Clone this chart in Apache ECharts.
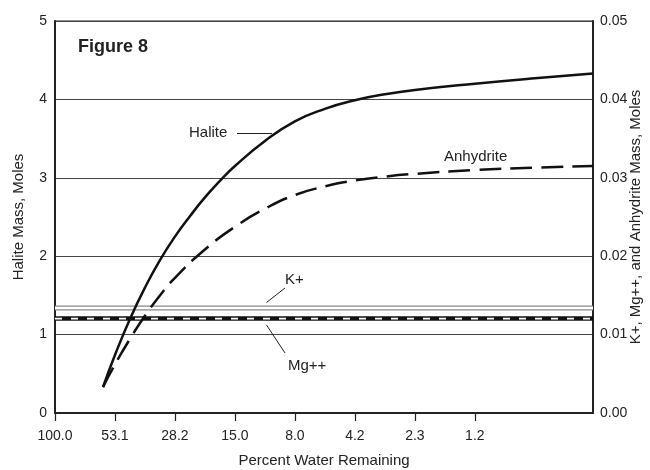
<!DOCTYPE html>
<html>
<head>
<meta charset="utf-8">
<script src="https://cdn.jsdelivr.net/npm/echarts@6/dist/echarts.min.js"></script>
<style>html,body{margin:0;padding:0;background:#fff}#c{width:650px;height:470px}</style>
</head>
<body>
<div id="c"></div>
<script>
// x positions are tick-index positions on the (log-spaced) water-remaining axis
const xTickLabels = ["100.0", "53.1", "28.2", "15.0", "8.0", "4.2", "2.3", "1.2"];
const xMax = 8.97;
const haliteX = [0.8, 1.0, 1.25, 1.5, 1.75, 2.0, 2.25, 2.5, 2.75, 3.0, 3.5, 4.0, 4.5, 5.0, 5.5, 6.0, 7.0, 8.0, 8.97];
const haliteY = [0.33, 0.74, 1.20, 1.60, 1.95, 2.25, 2.51, 2.75, 2.96, 3.15, 3.47, 3.72, 3.88, 3.99, 4.065, 4.12, 4.20, 4.27, 4.33];
const anhydriteX = [0.8, 1.0, 1.25, 1.5, 1.75, 2.0, 2.5, 3.0, 3.5, 4.0, 4.5, 5.0, 5.5, 6.0, 7.0, 8.0, 8.97];
const anhydriteY = [0.0033, 0.0062, 0.00945, 0.0124, 0.0150, 0.01725, 0.02085, 0.02375, 0.02605, 0.0278, 0.0289, 0.02965, 0.03015, 0.0305, 0.0310, 0.0313, 0.0315];
const kPlus = 0.0134;
const mgPlus = 0.01205;

const FONT = "'Liberation Sans', Arial, Helvetica, sans-serif";
const TXT = '#222';
const chart = echarts.init(document.getElementById('c'), null, {renderer: 'canvas'});
const pair = (xs, ys) => xs.map((x, i) => [x, ys[i]]);
const flat = v => [[0, v], [xMax, v]];

const option = {
  animation: false,
  backgroundColor: '#fff',
  grid: {left: 55, right: 57, top: 21, bottom: 57, outerBoundsMode: 'none', containLabel: false,
    show: true, borderColor: '#222', borderWidth: 1.2},
  xAxis: {
    type: 'value', min: 0, max: xMax, interval: 1,
    name: 'Percent Water Remaining', nameLocation: 'middle', nameGap: 40, nameMoveOverlap: false,
    nameTextStyle: {fontFamily: FONT, fontSize: 15, color: TXT},
    axisLine: {lineStyle: {color: '#222', width: 2}},
    axisTick: {show: true, length: 8, customValues: [0,1,2,3,4,5,6,7], lineStyle: {color: '#222', width: 1.2}},
    axisLabel: {customValues: [0,1,2,3,4,5,6,7], margin: 16, fontFamily: FONT, fontSize: 14, color: TXT,
      formatter: v => xTickLabels[Math.round(v)] || ''},
    splitLine: {show: false}
  },
  yAxis: [{
    type: 'value', min: 0, max: 5, interval: 1, position: 'left',
    name: 'Halite Mass, Moles', nameLocation: 'middle', nameGap: 29, nameMoveOverlap: false,
    nameTextStyle: {fontFamily: FONT, fontSize: 15, color: TXT},
    axisLine: {show: true, lineStyle: {color: '#222', width: 2}},
    axisTick: {show: false},
    axisLabel: {margin: 8, fontFamily: FONT, fontSize: 14, color: TXT},
    splitLine: {show: true, lineStyle: {color: '#444', width: 1}}
  }, {
    type: 'value', min: 0, max: 0.05, interval: 0.01, position: 'right',
    name: 'K+, Mg++, and Anhydrite Mass, Moles', nameLocation: 'middle', nameGap: 35, nameMoveOverlap: false,
    nameTextStyle: {fontFamily: FONT, fontSize: 15, color: TXT},
    axisLine: {show: true, lineStyle: {color: '#222', width: 2}},
    axisTick: {show: false},
    axisLabel: {margin: 7, fontFamily: FONT, fontSize: 14, color: TXT, formatter: v => v.toFixed(2)},
    splitLine: {show: false}
  }],
  series: [
    {name: 'K+', type: 'line', yAxisIndex: 1, data: flat(kPlus), showSymbol: false, silent: true,
      lineStyle: {color: '#888', width: 5}},
    {name: 'K+ inner', type: 'line', yAxisIndex: 1, data: flat(kPlus), showSymbol: false, silent: true,
      lineStyle: {color: '#fff', width: 2.4}},
    {name: 'Mg++', type: 'line', yAxisIndex: 1, data: flat(mgPlus), showSymbol: false, silent: true,
      lineStyle: {color: '#111', width: 4.5}},
    {name: 'Mg++ inner', type: 'line', yAxisIndex: 1, data: flat(mgPlus), showSymbol: false, silent: true,
      lineStyle: {color: '#fff', width: 1.8, type: [7, 9], dashOffset: 0, cap: 'butt'}},
    {name: 'Halite', type: 'line', yAxisIndex: 0, data: pair(haliteX, haliteY), showSymbol: false,
      smooth: 0.5, lineStyle: {color: '#111', width: 2.5}},
    {name: 'Anhydrite', type: 'line', yAxisIndex: 1, data: pair(anhydriteX, anhydriteY), showSymbol: false,
      smooth: 0.5, lineStyle: {color: '#111', width: 2.5, type: [22, 9], cap: 'butt'}}
  ]
};
chart.setOption(option);

function px(x, y, axis) {
  return chart.convertToPixel({xAxisIndex: 0, yAxisIndex: axis}, [x, y]);
}
const tStyle = (t, fs, bold) => ({text: t, fill: TXT, font: (bold ? 'bold ' : '') + fs + 'px ' + FONT});
const topLeft = px(0, 5, 0);
const g = [];
g.push({type: 'text', x: topLeft[0] + 23, y: topLeft[1] + 17, style: tStyle('Figure 8', 18, true)});
// Halite label + leader
g.push({type: 'text', x: 189, y: 125, style: tStyle('Halite', 15)});
g.push({type: 'line', shape: {x1: 237, y1: 133.5, x2: 272, y2: 133.5}, style: {stroke: '#222', lineWidth: 1}});
// Anhydrite label
g.push({type: 'text', x: 444, y: 149, style: tStyle('Anhydrite', 15)});
// K+ label + leader
g.push({type: 'text', x: 285, y: 272, style: tStyle('K+', 15)});
g.push({type: 'line', shape: {x1: 285, y1: 288, x2: 266.5, y2: 302.5}, style: {stroke: '#222', lineWidth: 1}});
// Mg++ label + leader
g.push({type: 'text', x: 288, y: 358, style: tStyle('Mg++', 15)});
g.push({type: 'line', shape: {x1: 266.5, y1: 325, x2: 285, y2: 353}, style: {stroke: '#222', lineWidth: 1}});
chart.setOption({graphic: g});
</script>
</body>
</html>
